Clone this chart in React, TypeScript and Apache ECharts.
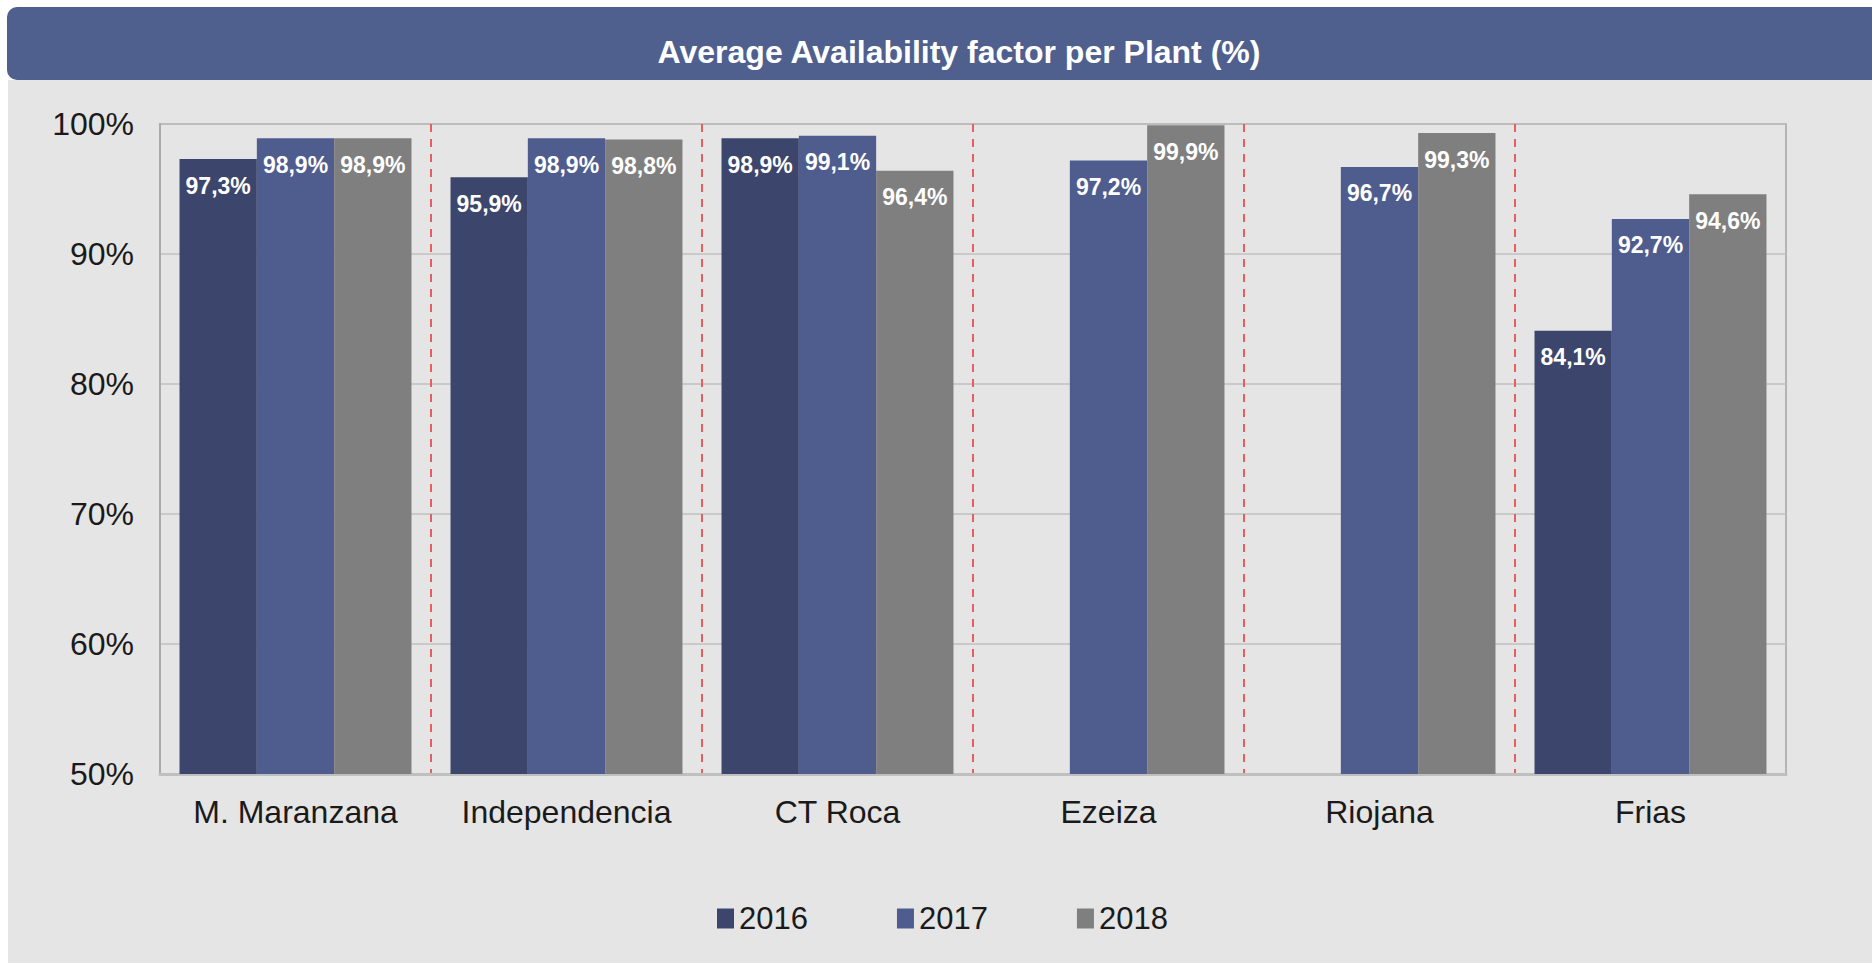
import React, { useEffect, useRef } from "react";
import * as echarts from "echarts";

const categories = ["M. Maranzana", "Independencia", "CT Roca", "Ezeiza", "Riojana", "Frias"];
const seriesNames = ["2016", "2017", "2018"];
const values2016: (number | null)[] = [97.3, 95.9, 98.9, null, null, 84.1];
const values2017: (number | null)[] = [98.9, 98.9, 99.1, 97.2, 96.7, 92.7];
const values2018: (number | null)[] = [98.9, 98.8, 96.4, 99.9, 99.3, 94.6];
const colors = ["#3c466c", "#4f5d8e", "#7f7f7f"];
const titleText = "Average Availability factor per Plant (%)";

const FONT = "Liberation Sans, Arial, Helvetica, sans-serif";

export default function App() {
  const ref = useRef<HTMLDivElement>(null);
  useEffect(() => {
    if (!ref.current) return;
    const chart = echarts.init(ref.current, null, { renderer: "svg" });
    const allValues = [values2016, values2017, values2018];
    const series = seriesNames.map((name, i) => ({
      name,
      type: "bar",
      data: allValues[i],
      barGap: "0%",
      barCategoryGap: "14.4%",
      itemStyle: { color: colors[i] },
      label: {
        show: true,
        position: "insideTop",
        distance: 15,
        color: "#ffffff",
        fontFamily: FONT,
        fontWeight: "bold",
        fontSize: 23,
        formatter: (p: any) => `${Number(p.value).toFixed(1).replace(".", ",")}%`,
      },
    }));
    chart.setOption({
      animation: false,
      backgroundColor: "#e5e5e5",
      textStyle: { fontFamily: FONT },
      graphic: [
        { type: "rect", shape: { x: 0, y: 0, width: 1872, height: 80 }, style: { fill: "#ffffff" }, silent: true },
        { type: "rect", shape: { x: 0, y: 0, width: 8, height: 963 }, style: { fill: "#ffffff" }, silent: true },
        { type: "rect", shape: { x: 7, y: 7, width: 1900, height: 73, r: 10 }, style: { fill: "#4f5f8e" }, silent: true },
        {
          type: "text",
          x: 959,
          y: 52,
          style: {
            text: titleText,
            fill: "#ffffff",
            fontSize: 32,
            fontWeight: "bold",
            fontFamily: FONT,
            align: "center",
            verticalAlign: "middle",
          },
          silent: true,
        },
      ],
      legend: {
        data: seriesNames,
        left: 712,
        top: 898,
        itemWidth: 17,
        itemHeight: 20,
        itemGap: 89,
        icon: "rect",
        textStyle: { fontSize: 31, color: "#1a1a1a", fontFamily: FONT },
      },
      grid: {
        left: 160,
        top: 124,
        right: 86,
        bottom: 189,
        show: true,
        borderColor: "#b4b4b4",
        borderWidth: 2,
        backgroundColor: "transparent",
      },
      xAxis: {
        type: "category",
        data: categories,
        axisLine: { show: true, lineStyle: { color: "#bfbfbf", width: 3 } },
        axisTick: { show: false },
        axisLabel: { interval: 0, fontSize: 32, color: "#1a1a1a", margin: 22, fontFamily: FONT },
        splitLine: {
          show: true,
          interval: 0,
          showMinLine: false,
          showMaxLine: false,
          lineStyle: { color: "#e46060", width: 2, type: [8, 7] },
        },
      },
      yAxis: {
        type: "value",
        min: 50,
        max: 100,
        interval: 10,
        axisLine: { show: true, lineStyle: { color: "#aaaaaa", width: 2 } },
        axisTick: { show: false },
        axisLabel: { fontSize: 32, color: "#1a1a1a", margin: 26, formatter: "{value}%", fontFamily: FONT },
        splitLine: { show: true, lineStyle: { color: "#bfbfbf", width: 1.5 } },
      },
      series,
    });
    return () => chart.dispose();
  }, []);
  return (
    <div
      ref={ref}
      style={{ position: "fixed", left: 0, top: 0, width: 1872, height: 963 }}
    />
  );
}
